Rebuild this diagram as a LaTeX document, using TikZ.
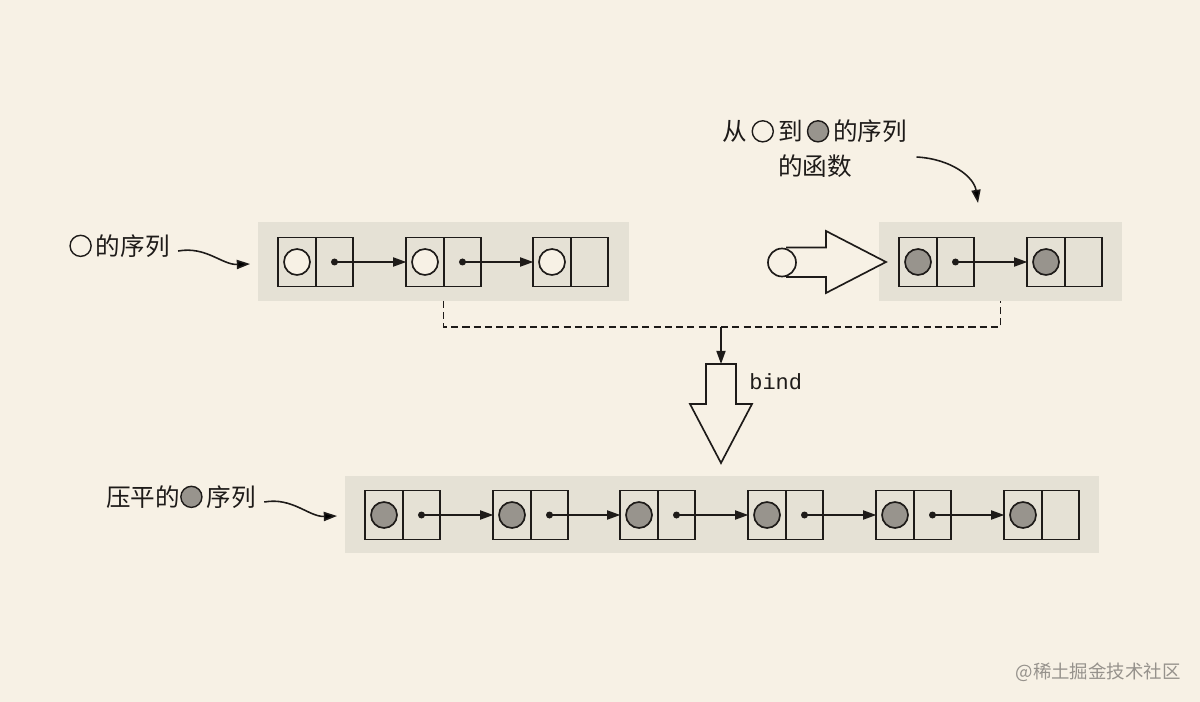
\documentclass[tikz,border=0pt]{standalone}
\usepackage{fontspec}
\setmainfont{Noto Sans CJK SC}
\setmonofont{Liberation Mono}
\usetikzlibrary{arrows.meta}
\definecolor{pagebg}{RGB}{247,241,229}
\definecolor{groupbg}{RGB}{229,225,213}
\definecolor{ballfill}{RGB}{152,148,141}
\definecolor{ink}{RGB}{30,27,25}
\definecolor{wmark}{RGB}{150,146,140}
\newcommand\wcirc{\tikz[baseline=-5.4pt]\draw[ink,line width=0.8pt,fill=pagebg] (0pt,0pt) circle[radius=6pt];}
\newcommand\gcirc{\tikz[baseline=-5.4pt]\draw[ink,line width=0.8pt,fill=ballfill] (0pt,0pt) circle[radius=6pt];}
\begin{document}
\begin{tikzpicture}[x=0.02cm,y=-0.02cm,
  half/.style={draw=ink, line width=0.95pt, minimum width=0.75cm, minimum height=0.98cm, inner sep=0pt, outer sep=0pt},
  ball/.style={circle, draw=ink, line width=0.95pt, minimum size=0.52cm, inner sep=0pt},
  dot/.style={circle, fill=ink, minimum size=0.14cm, inner sep=0pt},
  ptr/.style={draw=ink, line width=0.9pt, -{Triangle[length=7.5pt,width=5.2pt]}},
  lbl/.style={font=\fontsize{14pt}{18pt}\selectfont, text=ink, inner sep=0pt},
  groupbox/.style={fill=groupbg, inner sep=0pt, outer sep=0pt},
  outline/.style={draw=ink, line width=0.95pt, line join=miter}]

\fill[pagebg] (0,0) rectangle (1200,702);
\useasboundingbox (0,0) rectangle (1200,702);

% group backgrounds
\node[groupbox, minimum width=7.42cm, minimum height=1.58cm] (g1) at (443.5,261.5) {};
\node[groupbox, minimum width=4.86cm, minimum height=1.58cm] (g2) at (1000.5,261.5) {};
\node[groupbox, minimum width=15.08cm, minimum height=1.54cm] (g3) at (722,514.5) {};

% top-left list (white balls)
\foreach \n/\x in {1/278, 2/406, 3/533} {
  \node[half] (a\n-l) at (\x+19,262) {};
  \node[half, anchor=west] (a\n-r) at (a\n-l.east) {};
  \node[ball, fill=pagebg] (a\n-c) at (a\n-l) {};
}
\foreach \n in {1,2} {\node[dot] (a\n-d) at (a\n-r) {};}
\draw[ptr] (a1-d.center) -- (a2-l.west);
\draw[ptr] (a2-d.center) -- (a3-l.west);

% top-right list (grey balls)
\foreach \n/\x in {1/899, 2/1027} {
  \node[half] (b\n-l) at (\x+19,262) {};
  \node[half, anchor=west] (b\n-r) at (b\n-l.east) {};
  \node[ball, fill=ballfill] (b\n-c) at (b\n-l) {};
}
\node[dot] (b1-d) at (b1-r) {};
\draw[ptr] (b1-d.center) -- (b2-l.west);

% bottom list (grey balls)
\foreach \n/\x in {1/365, 2/493, 3/620, 4/748, 5/876, 6/1004} {
  \node[half] (c\n-l) at (\x+19,515) {};
  \node[half, anchor=west] (c\n-r) at (c\n-l.east) {};
  \node[ball, fill=ballfill] (c\n-c) at (c\n-l) {};
}
\foreach \n in {1,...,5} {\node[dot] (c\n-d) at (c\n-r) {};}
\foreach \n [evaluate=\n as \m using int(\n+1)] in {1,...,5} {
  \draw[ptr] (c\n-d.center) -- (c\m-l.west);
}

% function block arrow (circle -> grey)
\draw[outline, fill=pagebg] (786,247.5) -- (826,247.5) -- (826,231) -- (886,262) -- (826,293) -- (826,277) -- (786,277);
\draw[outline, fill=pagebg] (782,262.5) circle[radius=14];

% dashed bracket and bind arrow
\coordinate (jn) at (721,327);
\coordinate (bt) at (721,364);
\draw[ink, line width=0.9pt, dash pattern=on 4pt off 2.4pt] (g1.south) |- (jn) -| (g2.south);
\draw[ptr] (jn) -- (bt);
\draw[outline, fill=pagebg] (706,364) -- (736,364) -- (736,404) -- (752,404) -- (721,463) -- (690,404) -- (706,404) -- cycle;
\node[font=\ttfamily\fontsize{12.5pt}{14pt}\selectfont, text=ink, anchor=west, inner sep=0pt] (bind) at (749,382) {bind};

% labels
\node[lbl, anchor=west] (l1) at (69,246) {\wcirc\,的序列};
\node[lbl, align=center] (l2) at (815,149) {从\,\wcirc\,到\,\gcirc\,的序列\\[2pt]的函数};
\node[lbl, anchor=west] (l3) at (106,497) {压平的\gcirc\,序列};

\coordinate (t1) at (250,264);
\coordinate (t2) at (978,203);
\coordinate (t3) at (337,516);
\draw[ptr] ([xshift=0.16cm,yshift=-0.1cm]l1.east) .. controls +(28,-5) and +(-28,1) .. (t1);
\draw[ptr] ([xshift=0.18cm,yshift=-0.16cm]l2.east) .. controls +(35,2) and +(-4,-26) .. (t2);
\draw[ptr] ([xshift=0.16cm,yshift=-0.1cm]l3.east) .. controls +(28,-5) and +(-28,1) .. (t3);

% watermark
\node[font=\fontsize{10.5pt}{12pt}\selectfont, text=wmark, anchor=east, inner sep=0pt] (wm) at (1181,672) {@稀土掘金技术社区};
\end{tikzpicture}
\end{document}
